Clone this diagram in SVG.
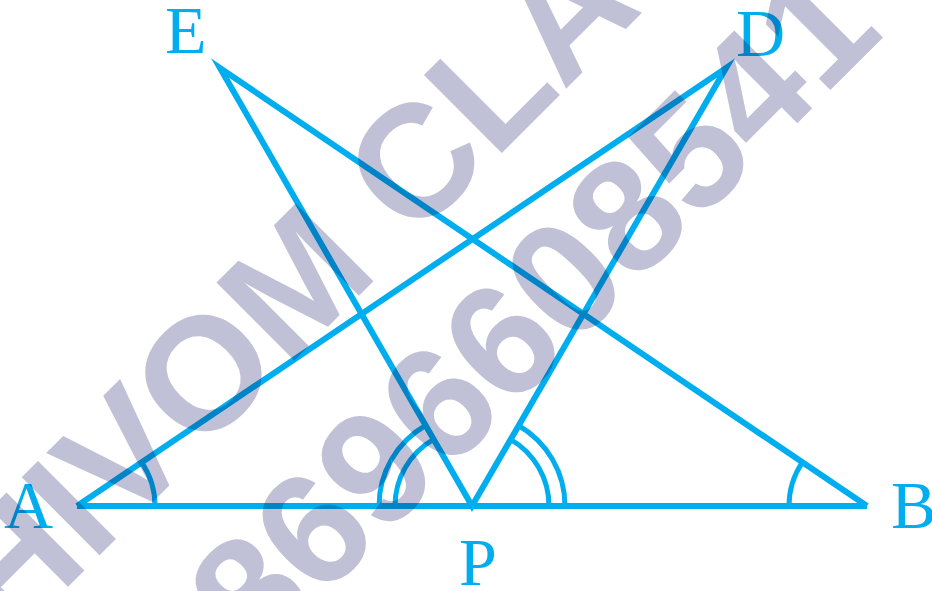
<svg xmlns="http://www.w3.org/2000/svg" width="932" height="591" viewBox="0 0 932 591">
  <style>
    .ln { fill: none; stroke: #00aeef; stroke-width: 6; stroke-linecap: butt; stroke-linejoin: miter; stroke-miterlimit: 10; }
    .arc { fill: none; stroke: #00aeef; stroke-width: 5; }
    .lbl { font-family: "Liberation Serif", "Times New Roman", serif; font-size: 68px; fill: #00aeef; }
    .wm { font-family: "Liberation Sans", Arial, sans-serif; font-weight: 700; font-size: 160px; fill: #c0c1d6; }
  </style>
  <rect width="932" height="591" fill="#ffffff"/>
  <g id="connectors">
    <line class="ln" x1="77" y1="506" x2="867" y2="506"/>
    <path class="ln" d="M77,506 L726,68 L472,506 L220,68 L867,506"/>
  </g>
  <g id="angles">
    <path class="arc" d="M155,506 A78,78 0 0 0 141.7,462.4"/>
    <path class="arc" d="M789,506 A78,78 0 0 1 802.3,462.4"/>
    <path class="arc" d="M379,506 A93,93 0 0 1 425.5,425.5"/>
    <path class="arc" d="M395,506 A77,77 0 0 1 433.5,439.3"/>
    <path class="arc" d="M565,506 A93,93 0 0 0 518.5,425.5"/>
    <path class="arc" d="M549,506 A77,77 0 0 0 510.5,439.3"/>
  </g>
  <g id="node-A"><text class="lbl" x="4" y="528">A</text></g>
  <g id="node-B"><text class="lbl" x="891" y="528">B</text></g>
  <g id="node-P"><text class="lbl" x="459" y="585">P</text></g>
  <g id="node-E"><text class="lbl" x="165" y="53">E</text></g>
  <g id="node-D"><text class="lbl" x="736" y="56">D</text></g>
  <g id="watermark" transform="rotate(-45 374 466)" style="mix-blend-mode: multiply">
    <text class="wm" x="-9.5" y="335">HIVOM CLA</text>
    <text class="wm" x="151.5" y="523">8696608541</text>
  </g>
</svg>
